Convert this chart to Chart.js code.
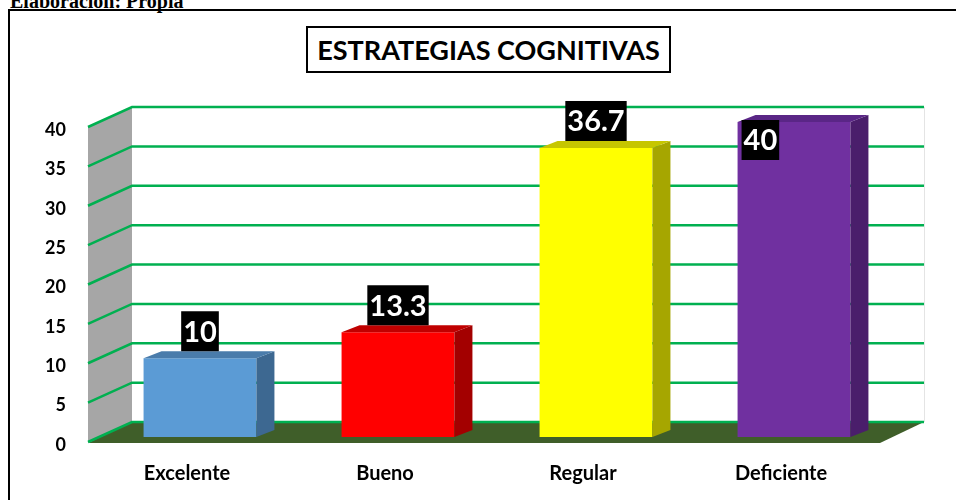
<!DOCTYPE html>
<html>
<head>
<meta charset="utf-8">
<script src="https://cdn.jsdelivr.net/npm/chart.js@4.4.1/dist/chart.umd.min.js"></script>
<style>
  body { margin: 0; background: #fff; width: 956px; height: 500px; overflow: hidden; position: relative; }
  #fuente { position: absolute; left: 10px; top: -10px; line-height: 20px; font: bold 20px "Liberation Serif", serif; white-space: nowrap; }
  #marco { position: absolute; left: 8px; top: 9px; width: 980px; height: 600px; border: 2px solid #000; }
  #titulo { position: absolute; left: 306px; top: 26px; width: 361px; height: 43px; border: 2px solid #000;
            font: bold 27px Lato, sans-serif; text-align: center; line-height: 43px; background: #fff; }
  #wrap { position: absolute; left: 0; top: 0; width: 956px; height: 500px; }
</style>
</head>
<body>
<div id="fuente">Elaboración: Propia</div>
<div id="marco"></div>
<div id="wrap"><canvas id="grafico" width="956" height="500"></canvas></div>
<div id="titulo">ESTRATEGIAS COGNITIVAS</div>
<script>
const categorias = ["Excelente", "Bueno", "Regular", "Deficiente"];
const valores = [10, 13.3, 36.7, 40];
const ticksY = [0, 5, 10, 15, 20, 25, 30, 35, 40];

const coloresFrente = ["#5b9bd5", "#ff0000", "#ffff00", "#7030a0"];
const coloresLado = ["#3d6891", "#a30000", "#a6a600", "#4a1e6b"];
const coloresArriba = ["#4a7cab", "#c00000", "#c6c600", "#5a2686"];

// profundidad de las paredes y de las barras (efecto 3D)
const PROF = { dx: 44, dy: -20 };
const BARRA = { dx: 13, dy: -5, ladoX: 18, ladoY: -7 };

const efecto3d = {
  id: "efecto3d",
  beforeDatasetsDraw(chart) {
    const { ctx, chartArea: a, scales: { y } } = chart;
    ctx.save();
    // pared lateral gris
    ctx.fillStyle = "#a6a6a6";
    ctx.beginPath();
    ctx.moveTo(a.left, a.top);
    ctx.lineTo(a.left + PROF.dx, a.top + PROF.dy);
    ctx.lineTo(a.left + PROF.dx, a.bottom + PROF.dy);
    ctx.lineTo(a.left, a.bottom);
    ctx.closePath();
    ctx.fill();
    // piso verde oscuro
    ctx.fillStyle = "#3f5e29";
    ctx.beginPath();
    ctx.moveTo(a.left, a.bottom + 1);
    ctx.lineTo(a.right, a.bottom + 1);
    ctx.lineTo(a.right + PROF.dx, a.bottom + PROF.dy);
    ctx.lineTo(a.left + PROF.dx, a.bottom + PROF.dy);
    ctx.closePath();
    ctx.fill();
    // borde derecho del fondo
    ctx.strokeStyle = "#e4e4e4";
    ctx.lineWidth = 1;
    ctx.beginPath();
    ctx.moveTo(a.right + PROF.dx + 0.5, a.top + PROF.dy);
    ctx.lineTo(a.right + PROF.dx + 0.5, a.bottom + PROF.dy);
    ctx.stroke();
    // lineas de cuadricula
    ctx.strokeStyle = "#00b050";
    ctx.lineWidth = 2.5;
    y.ticks.forEach(t => {
      const py = y.getPixelForValue(t.value);
      ctx.beginPath();
      ctx.moveTo(a.left, py);
      ctx.lineTo(a.left + PROF.dx, py + PROF.dy);
      ctx.lineTo(a.right + PROF.dx, py + PROF.dy);
      ctx.stroke();
    });
    ctx.restore();
    // las barras se dibujan un poco hacia el fondo
    ctx.save();
    ctx.translate(BARRA.dx, BARRA.dy);
  },
  afterDatasetsDraw(chart) {
    const { ctx, chartArea: a } = chart;
    const meta = chart.getDatasetMeta(0);
    meta.data.forEach((bar, i) => {
      const l = bar.x - bar.width / 2, r = bar.x + bar.width / 2, t = bar.y, b = bar.base;
      ctx.fillStyle = coloresLado[i];
      ctx.beginPath();
      ctx.moveTo(r, t);
      ctx.lineTo(r + BARRA.ladoX, t + BARRA.ladoY);
      ctx.lineTo(r + BARRA.ladoX, b + BARRA.ladoY);
      ctx.lineTo(r, b);
      ctx.closePath();
      ctx.fill();
      ctx.fillStyle = coloresArriba[i];
      ctx.beginPath();
      ctx.moveTo(l, t);
      ctx.lineTo(r, t);
      ctx.lineTo(r + BARRA.ladoX, t + BARRA.ladoY);
      ctx.lineTo(l + BARRA.ladoX, t + BARRA.ladoY);
      ctx.closePath();
      ctx.fill();
    });
    ctx.restore();

    // etiquetas de datos: fondo negro, texto blanco
    ctx.save();
    ctx.font = "bold 29px Lato";
    ctx.textAlign = "center";
    ctx.textBaseline = "middle";
    meta.data.forEach((bar, i) => {
      const txt = String(valores[i]);
      const w = ctx.measureText(txt).width + 4, h = 40;
      let left = bar.x + BARRA.dx - w / 2;
      let top = bar.y + BARRA.dy + BARRA.ladoY - h;
      if (top < a.top - 30) {
        // no cabe encima: dentro de la barra
        left = bar.x - bar.width / 2 + BARRA.dx + 4;
        top = bar.y + BARRA.dy - 2;
      }
      ctx.fillStyle = "#000";
      ctx.fillRect(left, top, w, h);
      ctx.fillStyle = "#fff";
      ctx.fillText(txt, left + w / 2, top + h / 2 + 1);
    });
    ctx.restore();
  }
};

new Chart(document.getElementById("grafico"), {
  type: "bar",
  data: {
    labels: categorias,
    datasets: [{
      data: valores,
      backgroundColor: coloresFrente,
      categoryPercentage: 1,
      barPercentage: 0.57,
      clip: false
    }]
  },
  options: {
    responsive: false,
    animation: false,
    layout: { padding: { left: 0, top: 127, right: 76, bottom: 0 } },
    plugins: { legend: { display: false }, tooltip: { enabled: false } },
    scales: {
      x: {
        grid: { display: false, drawTicks: false },
        border: { display: false },
        ticks: { color: "#000", padding: 20, font: { family: "Lato", weight: "bold", size: 20 } },
        afterFit(s) { s.height = 58; }
      },
      y: {
        min: ticksY[0],
        max: ticksY[ticksY.length - 1],
        grid: { display: false, drawTicks: false },
        border: { display: false },
        ticks: { stepSize: ticksY[1] - ticksY[0], color: "#000", padding: 22, labelOffset: 3,
                 font: { family: "Lato", weight: "bold", size: 18 } },
        afterFit(s) { s.width = 88; }
      }
    }
  },
  plugins: [efecto3d]
});
</script>
</body>
</html>
